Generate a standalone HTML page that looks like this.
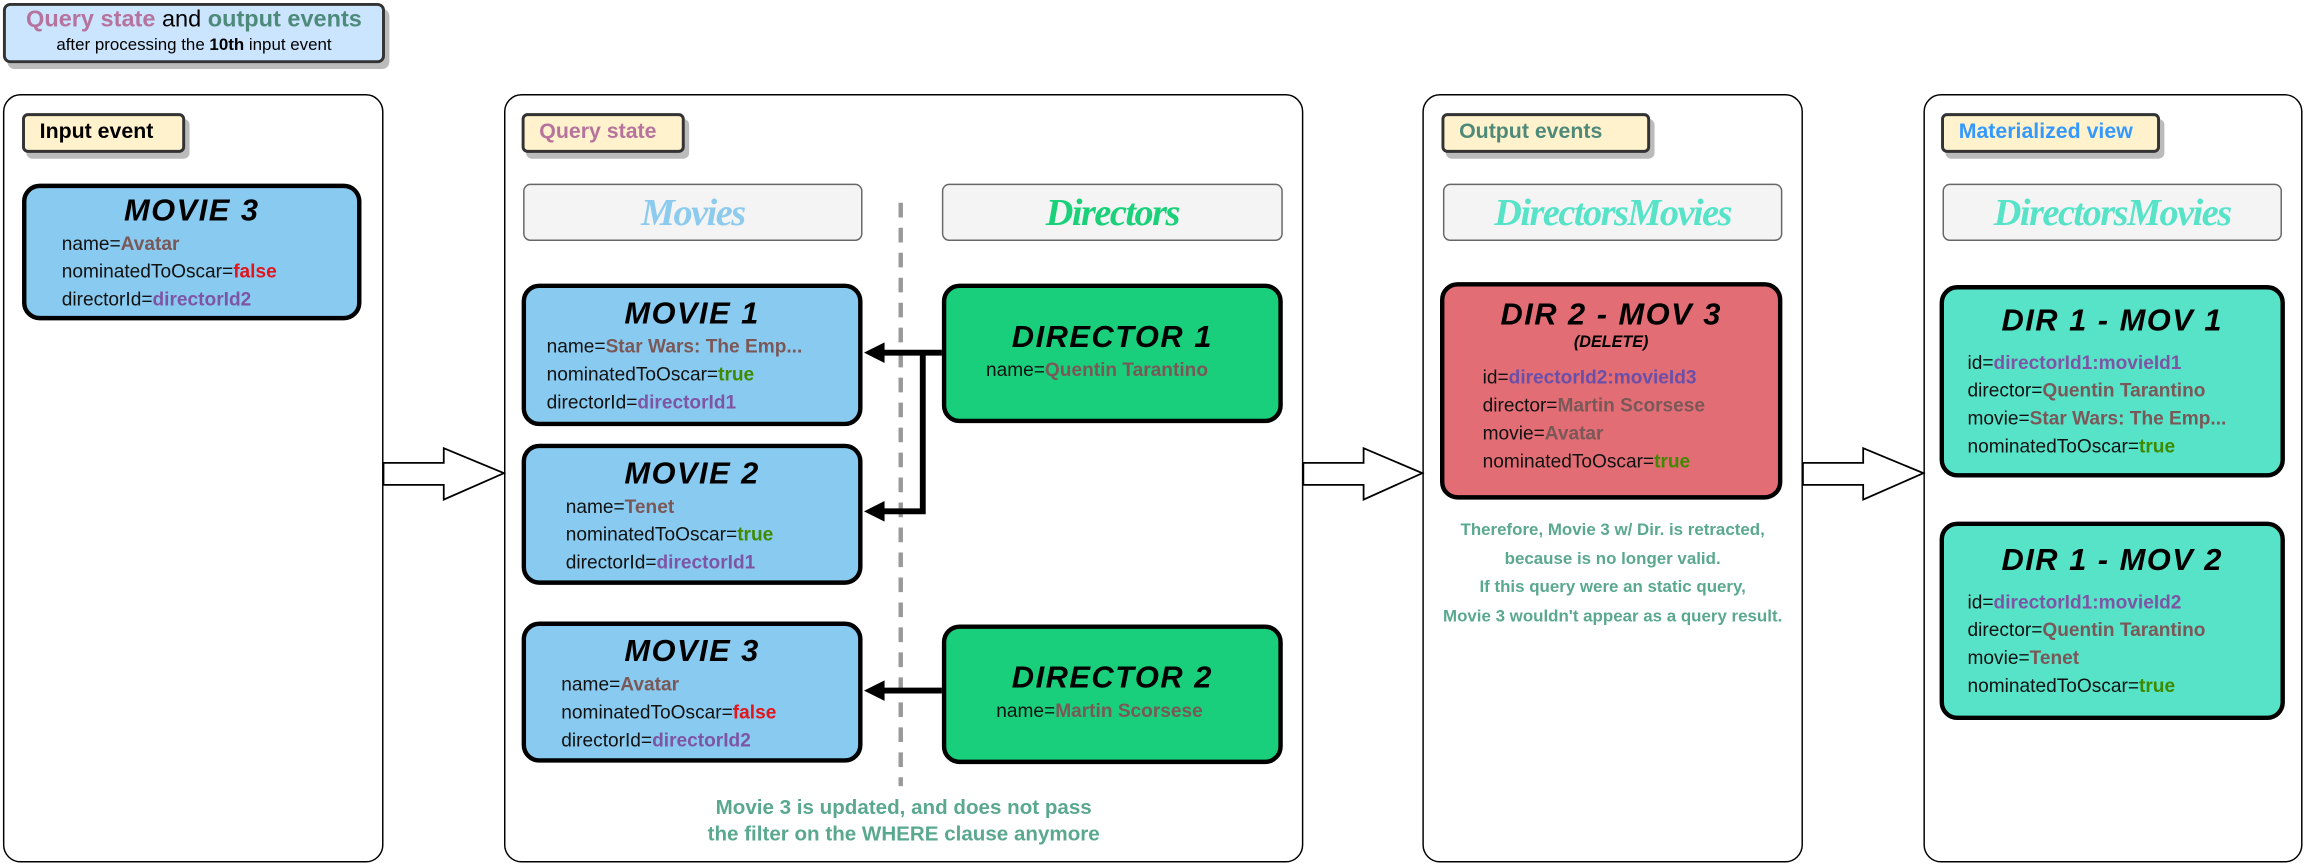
<!DOCTYPE html>
<html><head><meta charset="utf-8"><style>
body{margin:0;background:#fff;width:2304px;height:864px;overflow:hidden}
#s{position:absolute;left:0;top:0;width:1568px;height:588px;transform:scale(1.469388);transform-origin:0 0;font-family:"Liberation Sans",sans-serif}
.a{position:absolute;box-sizing:border-box}
.panel{border:1.5px solid #000;border-radius:12px;background:#fff}
.lab{border:2.5px solid #333;border-radius:4px;background:#fff2cc;box-shadow:3px 4px 0 #bbb;font-weight:bold;font-size:14.5px;padding-left:10px;line-height:22px}
.hdr{border:1.2px solid #666;border-radius:5px;background:#f4f4f4;text-align:center;font:italic bold 26px "Liberation Serif",serif;line-height:38px;letter-spacing:-1px}
.card{border:3.5px solid #000;border-radius:12px}
.t{text-align:center;font-weight:900;font-size:21px;font-style:italic;letter-spacing:1px;margin-top:6px}
.ln{font-size:13px;line-height:19px;color:#111}
.b{color:#7b5858;font-weight:bold}.g{color:#3f8a00;font-weight:bold}.r{color:#e3141b;font-weight:bold}.p{color:#7e55a5;font-weight:bold}
.note{color:#5aa88e;font-weight:bold;text-align:center}
</style></head><body><div id="s">
<div class="a" style="left:2px;top:2px;width:260px;height:41px;border:2.5px solid #333;border-radius:5px;background:#cce5ff;box-shadow:3px 4px 0 #bbb;text-align:center">
<div style="font-size:16px;line-height:19px"><b style="color:#b5739d">Query state</b> and <b style="color:#4d8a7a">output events</b></div>
<div style="font-size:11.5px;line-height:16px">after processing the <b>10th</b> input event</div></div>

<div class="a panel" style="left:2px;top:64px;width:259px;height:523px"></div>
<div class="a panel" style="left:343px;top:64px;width:544px;height:523px"></div>
<div class="a panel" style="left:968px;top:64px;width:259px;height:523px"></div>
<div class="a panel" style="left:1309px;top:64px;width:258px;height:523px"></div>

<svg class="a" style="left:0;top:0" width="1568" height="588">
<g fill="#fff" stroke="#000" stroke-width="1.2">
<path d="M261 315H302V305L343 322L302 340V330H261Z"/>
<path d="M887 315H928V305L968 322L928 340V330H887Z"/>
<path d="M1227 315H1268V305L1309 322L1268 340V330H1227Z"/>
</g>
<line x1="613" y1="138" x2="613" y2="535" stroke="#999" stroke-width="3" stroke-dasharray="10,7"/>
<g stroke="#000" stroke-width="4" fill="none"><path d="M641 240H628V348H600M628 240H600"/><path d="M641 470H600"/></g>
<g fill="#000"><path d="M588 240L602 233V247Z"/><path d="M588 348L602 341V355Z"/><path d="M588 470L602 463V477Z"/></g>
</svg>

<div class="a lab" style="left:15px;top:77px;width:111px;height:27px">Input event</div>
<div class="a lab" style="left:355px;top:77px;width:111px;height:27px;color:#b5739d">Query state</div>
<div class="a lab" style="left:981px;top:77px;width:142px;height:27px;color:#4d8a7a">Output events</div>
<div class="a lab" style="left:1321px;top:77px;width:149px;height:27px;color:#3399ff">Materialized view</div>

<div class="a hdr" style="left:356px;top:125px;width:231px;height:39px;color:#8ccbee">Movies</div>
<div class="a hdr" style="left:641px;top:125px;width:232px;height:39px;color:#1ad17a">Directors</div>
<div class="a hdr" style="left:982px;top:125px;width:231px;height:39px;color:#56e3c8">DirectorsMovies</div>
<div class="a hdr" style="left:1322px;top:125px;width:231px;height:39px;color:#56e3c8">DirectorsMovies</div>

<div class="a card" style="left:15px;top:125px;width:231px;height:93px;background:#89cbf0"><div class="t" style="margin-top:4px">MOVIE 3</div>
<div class="ln" style="padding-left:24px">name=<span class="b">Avatar</span><br>nominatedToOscar=<span class="r">false</span><br>directorId=<span class="p">directorId2</span></div></div>

<div class="a card" style="left:355px;top:193px;width:232px;height:97px;background:#89cbf0"><div class="t">MOVIE 1</div>
<div class="ln" style="padding-left:14px">name=<span class="b">Star Wars: The Emp...</span><br>nominatedToOscar=<span class="g">true</span><br>directorId=<span class="p">directorId1</span></div></div>
<div class="a card" style="left:355px;top:302px;width:232px;height:96px;background:#89cbf0"><div class="t">MOVIE 2</div>
<div class="ln" style="padding-left:27px">name=<span class="b">Tenet</span><br>nominatedToOscar=<span class="g">true</span><br>directorId=<span class="p">directorId1</span></div></div>
<div class="a card" style="left:355px;top:423px;width:232px;height:96px;background:#89cbf0"><div class="t">MOVIE 3</div>
<div class="ln" style="padding-left:24px">name=<span class="b">Avatar</span><br>nominatedToOscar=<span class="r">false</span><br>directorId=<span class="p">directorId2</span></div></div>

<div class="a card" style="left:641px;top:193px;width:232px;height:95px;background:#19cf7b"><div class="t" style="margin-top:22px">DIRECTOR 1</div>
<div class="ln" style="padding-left:27px">name=<span class="b">Quentin Tarantino</span></div></div>
<div class="a card" style="left:641px;top:425px;width:232px;height:95px;background:#19cf7b"><div class="t" style="margin-top:22px">DIRECTOR 2</div>
<div class="ln" style="padding-left:34px">name=<span class="b">Martin Scorsese</span></div></div>

<div class="a note" style="left:400px;top:540px;width:430px;font-size:14px;line-height:18px">Movie 3 is updated, and does not pass<br>the filter on the WHERE clause anymore</div>

<div class="a card" style="left:980px;top:192px;width:233px;height:148px;background:#e36d75"><div class="t" style="margin-top:8px">DIR 2 - MOV 3</div>
<div style="text-align:center;font-weight:bold;font-size:11px;font-style:italic">(DELETE)</div>
<div class="ln" style="padding-left:26px;margin-top:8px">id=<span class="p" style="color:#6a4fa8">directorId2:movieId3</span><br>director=<span class="b">Martin Scorsese</span><br>movie=<span class="b">Avatar</span><br>nominatedToOscar=<span class="g">true</span></div></div>
<div class="a note" style="left:968px;top:352px;width:259px;font-size:11.5px;line-height:19.5px">Therefore, Movie 3 w/ Dir. is retracted,<br>because is no longer valid.<br>If this query were an static query,<br>Movie 3 wouldn't appear as a query result.</div>

<div class="a card" style="left:1320px;top:194px;width:235px;height:131px;background:#56e3c8"><div class="t" style="margin-top:10px">DIR 1 - MOV 1</div>
<div class="ln" style="padding-left:16px;margin-top:6px">id=<span class="p">directorId1:movieId1</span><br>director=<span class="b">Quentin Tarantino</span><br>movie=<span class="b">Star Wars: The Emp...</span><br>nominatedToOscar=<span class="g">true</span></div></div>
<div class="a card" style="left:1320px;top:355px;width:235px;height:135px;background:#56e3c8"><div class="t" style="margin-top:12px">DIR 1 - MOV 2</div>
<div class="ln" style="padding-left:16px;margin-top:6px">id=<span class="p">directorId1:movieId2</span><br>director=<span class="b">Quentin Tarantino</span><br>movie=<span class="b">Tenet</span><br>nominatedToOscar=<span class="g">true</span></div></div>
</div></body></html>
